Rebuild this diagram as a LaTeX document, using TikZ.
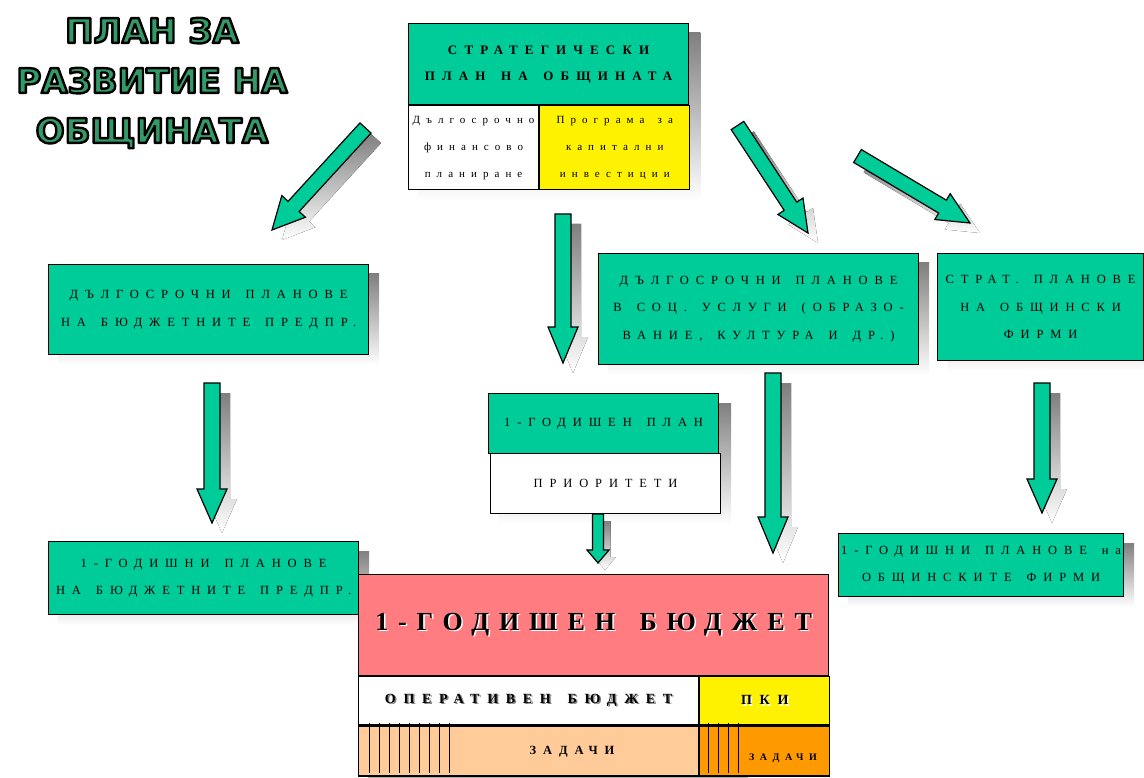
\documentclass[tikz,border=0pt]{standalone}
\usepackage{fontspec}
\setmainfont{Liberation Serif}
\newfontfamily\titlefont{DejaVu Sans Bold}
\newfontfamily\spfont[LetterSpace=55,WordSpace=1.5]{Liberation Serif}
\usetikzlibrary{positioning,calc,backgrounds}

\definecolor{boxgreen}{RGB}{0,204,153}
\definecolor{titlegreen}{RGB}{51,153,102}
\definecolor{shade}{RGB}{128,128,128}
\definecolor{budpink}{RGB}{255,124,128}
\definecolor{taskorange}{RGB}{255,204,153}
\definecolor{pkiorange}{RGB}{255,153,0}

% outlined title text (fill and stroke)
\newcommand\outl[1]{\special{pdf:literal direct 2 Tr 2.4 w 1 j 0 0 0 RG}#1\special{pdf:literal direct 0 Tr}}
% text with a shadow
\newcommand\shtxt[2]{\rlap{\kern1.5pt\raisebox{-1.5pt}{\textcolor{#1}{#2}}}#2}
% block arrow: [shadow] tail, tip, shaft, head width, head length
\newcommand\blockarrow[6][10]{%
  \coordinate (#3-h) at ($(#3)!#6pt!(#2)$);
  \def\arrowshape{($(#2)!#4pt!90:(#3)$) -- ($(#3-h)!#4pt!-90:(#2)$)
    -- ($(#3-h)!#5pt!-90:(#2)$) -- (#3) -- ($(#3-h)!#5pt!90:(#2)$)
    -- ($(#3-h)!#4pt!90:(#2)$) -- ($(#2)!#4pt!-90:(#3)$) -- cycle}
  \fill[shade,transform canvas={shift={(#1pt,-#1pt)}}] \arrowshape;
  \draw[blk] \arrowshape;}

\begin{document}
\begin{tikzpicture}[x=1pt,y=-1pt,
  cell/.style={draw,line width=1.2pt,anchor=north west,inner sep=0pt,align=center,
    font=\spfont\fontsize{12.5}{27.5}\selectfont},
  gcell/.style={cell,fill=boxgreen},
  blk/.style={draw,line width=1.2pt,fill=boxgreen},
  lbl/.style={inner sep=0pt,font=\spfont\bfseries\fontsize{12.5}{14}\selectfont}]
  \useasboundingbox (0,0) rectangle (1144,778);

  \node[font=\titlefont\fontsize{34}{50}\selectfont,align=center,text=titlegreen]
    (title) at (152,83) {\outl{ПЛАН ЗА}\\\outl{РАЗВИТИЕ НА}\\\outl{ОБЩИНАТА}};

  % strategic plan
  \node[gcell,minimum width=280,minimum height=81,font=\spfont\bfseries\fontsize{13}{26}\selectfont]
    (strat) at (408,23) {СТРАТЕГИЧЕСКИ\\ПЛАН НА ОБЩИНАТА};
  \node[cell,fill=white,minimum width=130,minimum height=84,font=\spfont\fontsize{11}{27}\selectfont]
    (fin_plan) at (strat.south west) {Дългосрочно\\финансово\\планиране};
  \node[cell,fill=yellow,minimum width=150,minimum height=84,font=\spfont\fontsize{11}{27}\selectfont]
    (cap_inv) at (fin_plan.north east) {Програма за\\капитални\\инвестиции};

  % long term plans
  \node[gcell,minimum width=320,minimum height=90] (lt_bud) at (48,264)
    {ДЪЛГОСРОЧНИ ПЛАНОВЕ\\НА БЮДЖЕТНИТЕ ПРЕДПР.};
  \node[gcell,minimum width=320,minimum height=111] (lt_soc) at (598,253)
    {ДЪЛГОСРОЧНИ ПЛАНОВЕ\\В СОЦ. УСЛУГИ (ОБРАЗО-\\ВАНИЕ, КУЛТУРА И ДР.)};
  \node[gcell,minimum width=206,minimum height=107] (lt_firm) at (937,253)
    {СТРАТ. ПЛАНОВЕ\\НА ОБЩИНСКИ\\ФИРМИ};

  % one year plans
  \node[gcell,minimum width=230,minimum height=60] (plan_1) at (488,393) {1-ГОДИШЕН ПЛАН};
  \node[cell,fill=white,minimum width=230,minimum height=60] (prio) at (490,453) {ПРИОРИТЕТИ};
  \node[gcell,minimum width=310,minimum height=73] (yr_bud) at (48,541)
    {1-ГОДИШНИ ПЛАНОВЕ\\НА БЮДЖЕТНИТЕ ПРЕДПР.};
  \node[gcell,minimum width=285,minimum height=63] (yr_firm) at (838,533)
    {1-ГОДИШНИ ПЛАНОВЕ на\\ОБЩИНСКИТЕ ФИРМИ};

  % budget
  \node[cell,fill=budpink,minimum width=470,minimum height=101,
    font=\spfont\bfseries\fontsize{26}{30}\selectfont\addfontfeature{LetterSpace=38}]
    (budget) at (358,574) {\raisebox{-8pt}{\shtxt{white}{1-ГОДИШЕН БЮДЖЕТ}}};
  \node[cell,fill=white,minimum width=340,minimum height=48,font=\spfont\bfseries\fontsize{14}{16}\selectfont]
    (op_bud) at (budget.south west) {\raisebox{-6pt}{\shtxt{shade}{ОПЕРАТИВЕН БЮДЖЕТ}}};
  \node[cell,fill=yellow,minimum width=130,minimum height=48,font=\spfont\bfseries\fontsize{14}{16}\selectfont]
    (pki) at (op_bud.north east) {\raisebox{-6pt}{\shtxt{white}{ПКИ}}};
  \node[cell,fill=taskorange,minimum width=340,minimum height=50] (tasks) at (op_bud.south west) {};
  \node[cell,fill=pkiorange,minimum width=130,minimum height=50] (pki_tasks) at (tasks.north east) {};
  \foreach \x in {369,379,...,449} \draw (\x,723) -- (\x,773);
  \foreach \x in {708,718,728,738} \draw (\x,723) -- (\x,773);
  \node[lbl] (tasks_lbl) at (572,752) {ЗАДАЧИ};
  \node[lbl,font=\spfont\bfseries\fontsize{10}{12}\selectfont] (pki_tasks_lbl) at (783,758) {ЗАДАЧИ};

  % shadows
  \begin{scope}[on background layer]
    \fill[shade] ($(strat.north west)+(10,10)$) rectangle ($(cap_inv.south east)+(10,10)$);
    \foreach \n in {lt_bud,lt_soc,lt_firm,yr_bud,yr_firm}
      \fill[shade] ($(\n.north west)+(10,10)$) rectangle ($(\n.south east)+(10,10)$);
    \fill[shade] ($(plan_1.north west)+(10,10)$) rectangle ($(prio.south east)+(10,10)$);
    \fill[shade] (368,773) rectangle (748,783);
  \end{scope}

  % arrows
  \coordinate (t_1) at (365.5,128);  \coordinate (h_1) at (272,230);
  \coordinate (t_2) at (563,214);    \coordinate (h_2) at (563,363);
  \coordinate (t_3) at (737.5,125.5); \coordinate (h_3) at (808,233);
  \coordinate (t_4) at (857.5,156);  \coordinate (h_4) at (970,223);
  \coordinate (t_5) at (212,383);    \coordinate (h_5) at (212,523);
  \coordinate (t_6) at (773,373);    \coordinate (h_6) at (773,553);
  \coordinate (t_7) at (1042,383);   \coordinate (h_7) at (1042,513);
  \coordinate (t_8) at (598,514);    \coordinate (h_8) at (598,563);
  \blockarrow{t_1}{h_1}{7.5}{16}{32}
  \blockarrow{t_2}{h_2}{8}{15}{36}
  \blockarrow{t_3}{h_3}{7.5}{15}{32}
  \blockarrow{t_4}{h_4}{7.5}{15}{32}
  \blockarrow{t_5}{h_5}{8}{15}{34}
  \blockarrow{t_6}{h_6}{8}{15}{36}
  \blockarrow{t_7}{h_7}{8}{15}{34}
  \blockarrow[7]{t_8}{h_8}{5.5}{11}{13}
\end{tikzpicture}
\end{document}
